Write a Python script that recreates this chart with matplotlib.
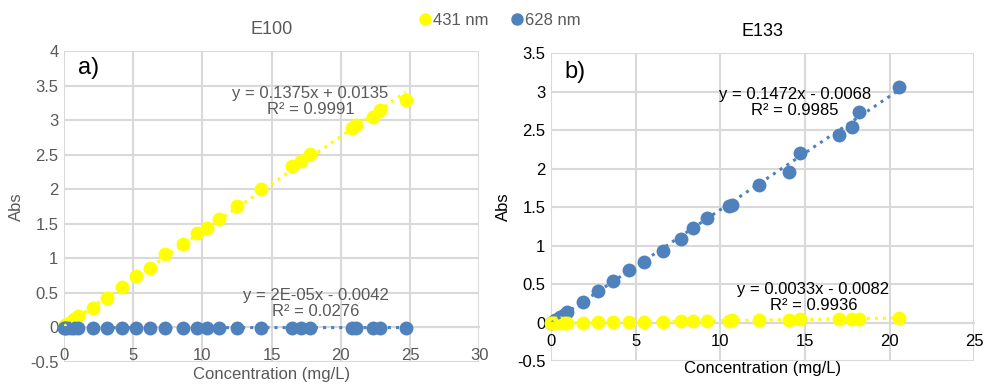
import matplotlib
matplotlib.use("Agg")
import matplotlib.pyplot as plt
from matplotlib.lines import Line2D
import numpy as np

plt.rcParams['font.family'] = ['Liberation Sans Narrow', 'Liberation Sans', 'DejaVu Sans']

YELLOW = '#FFFF00'
BLUE = '#4F81BD'
GREY = '#595959'
GRID = '#D9D9D9'
FS = 12

# E100 panel
conc_e100 = [0, 0.1, 0.25, 0.5, 0.75, 1.0, 2.07, 3.13, 4.17, 5.2, 6.2, 7.3, 8.6,
             9.6, 10.3, 11.2, 12.5, 14.2, 16.5, 17.1, 17.8, 20.8, 21.1, 22.3, 22.8, 24.7]
abs431_e100 = [0.0, 0.03, 0.05, 0.08, 0.12, 0.16, 0.285, 0.43, 0.58, 0.74, 0.865, 1.06, 1.21,
               1.37, 1.44, 1.575, 1.75, 2.0, 2.34, 2.41, 2.51, 2.88, 2.93, 3.04, 3.14, 3.29]
abs628_e100 = [-0.005, -0.004, -0.004, -0.005, -0.004, -0.004, -0.004, -0.004, -0.005, -0.004,
               -0.004, -0.004, -0.004, -0.004, -0.004, -0.004, -0.004, -0.004, -0.004, -0.004,
               -0.003, -0.004, -0.004, -0.004, -0.004, -0.004]

# E133 panel
conc_e133 = [0, 0.1, 0.25, 0.5, 0.75, 0.93, 1.87, 2.76, 3.69, 4.63, 5.5, 6.64, 7.68,
             8.39, 9.2, 10.54, 10.68, 12.3, 14.07, 14.72, 17.02, 17.77, 18.17, 20.53]
abs628_e133 = [0.0, 0.01, 0.03, 0.07, 0.1, 0.14, 0.265, 0.405, 0.545, 0.68, 0.79, 0.935, 1.08,
               1.23, 1.36, 1.51, 1.53, 1.79, 1.96, 2.2, 2.43, 2.54, 2.73, 3.06]
abs431_e133 = [-0.01, -0.008, -0.007, -0.006, -0.005, -0.004, -0.002, 0.001, 0.004, 0.007, 0.01,
               0.013, 0.017, 0.019, 0.022, 0.026, 0.027, 0.032, 0.038, 0.04, 0.048, 0.05, 0.052, 0.058]

# trendline fits (slope, intercept) as printed on the chart
fit_e100 = {'431': (0.1375, 0.0135), '628': (2e-05, -0.0042)}
fit_e133 = {'431': (0.0033, -0.0082), '628': (0.1472, -0.0068)}

fig = plt.figure(figsize=(9.84, 3.87), dpi=100)
ax1 = fig.add_axes([0.065, 0.065, 0.422, 0.803])
ax2 = fig.add_axes([0.560, 0.067, 0.430, 0.796])


def style(ax, xmax, xstep, ymax, txtcol, xpad, lpad):
    ax.set_xlim(0, xmax)
    ax.set_ylim(-0.5, ymax)
    ax.set_xticks(np.arange(0, xmax + 0.1, xstep))
    ax.set_yticks(np.arange(-0.5, ymax + 0.01, 0.5))
    ax.set_yticklabels([('%g' % v) for v in np.arange(-0.5, ymax + 0.01, 0.5)])
    for s in ['top', 'right', 'left']:
        ax.spines[s].set_visible(False)
    ax.spines['bottom'].set_position(('data', 0))
    ax.spines['bottom'].set_color(GRID)
    ax.spines['bottom'].set_linewidth(1.5)
    ax.grid(True, color=GRID, linewidth=1.5)
    ax.set_axisbelow(True)
    ax.tick_params(length=0, labelsize=FS, colors=txtcol, pad=4)
    ax.tick_params(axis='x', pad=xpad)
    ax.set_ylabel('Abs', fontsize=FS, color=txtcol, labelpad=4)
    ax.set_xlabel('Concentration (mg/L)', fontsize=FS, color=txtcol, labelpad=lpad)


def series(ax, x, y, col, fit):
    ax.plot(x, y, 'o', color=col, markersize=10, markeredgewidth=0, zorder=3, clip_on=False)
    xs = np.array([0, max(x)])
    ax.plot(xs, fit[0] * xs + fit[1], ':', color=col, linewidth=2.2, zorder=4)


style(ax1, 30, 5, 4, GREY, 15, 3)
series(ax1, conc_e100, abs431_e100, YELLOW, fit_e100['431'])
series(ax1, conc_e100, abs628_e100, BLUE, fit_e100['628'])
ax1.set_title('E100', fontsize=FS + 1, color=GREY, pad=12)
ax1.text(1.0, 3.75, 'a)', fontsize=17, color='black', va='center')
ax1.text(17.8, 3.27, 'y = 0.1375x + 0.0135\nR² = 0.9991', fontsize=FS, color=GREY,
         ha='center', va='center', linespacing=1.1)
ax1.text(18.2, 0.35, 'y = 2E-05x - 0.0042\nR² = 0.0276', fontsize=FS, color=GREY,
         ha='center', va='center', linespacing=1.1)

style(ax2, 25, 5, 3.5, 'black', 8, 9)
series(ax2, conc_e133, abs628_e133, BLUE, fit_e133['628'])
series(ax2, conc_e133, abs431_e133, YELLOW, fit_e133['431'])
ax2.set_title('E133', fontsize=FS + 1, color='black', pad=12)
ax2.text(0.8, 3.25, 'b)', fontsize=17, color='black', va='center')
ax2.text(14.4, 2.86, 'y = 0.1472x - 0.0068\nR² = 0.9985', fontsize=FS, color='black',
         ha='center', va='center', linespacing=1.1)
ax2.text(15.5, 0.33, 'y = 0.0033x - 0.0082\nR² = 0.9936', fontsize=FS, color='black',
         ha='center', va='center', linespacing=1.1)

handles = [Line2D([], [], marker='o', linestyle='', color=YELLOW, markersize=9, markeredgewidth=0),
           Line2D([], [], marker='o', linestyle='', color=BLUE, markersize=9, markeredgewidth=0)]
leg = fig.legend(handles, ['431 nm', '628 nm'], loc='center', bbox_to_anchor=(0.507, 0.948),
                 ncol=2, frameon=False, fontsize=FS, handletextpad=0.0, columnspacing=1.2,
                 handlelength=1.0)
for t in leg.get_texts():
    t.set_color(GREY)

fig.savefig('out.png', dpi=100)
